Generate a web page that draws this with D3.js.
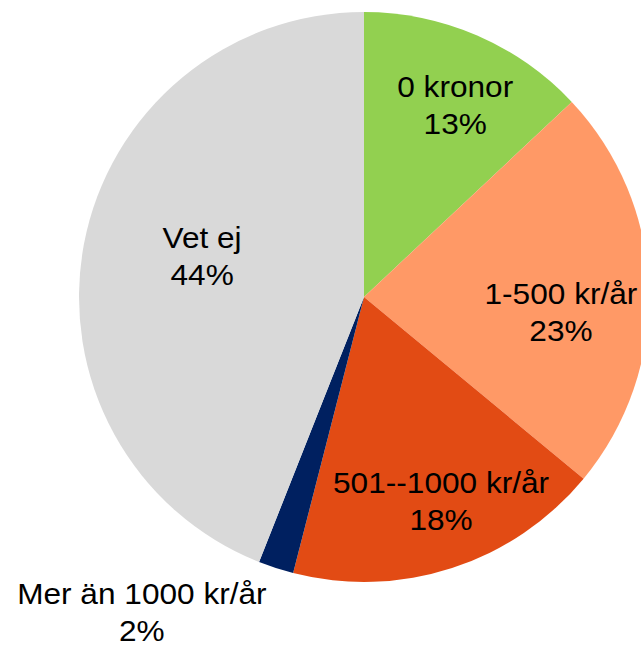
<!DOCTYPE html>
<html>
<head>
<meta charset="utf-8">
<script src="https://cdn.jsdelivr.net/npm/d3@7"></script>
<style>
  html, body { margin: 0; padding: 0; background: #fff; overflow: hidden; }
  svg { display: block; }
</style>
</head>
<body>
<svg id="chart" width="641" height="646"></svg>
<script>
// data
const categories = ['0 kronor', '1-500 kr/år', '501--1000 kr/år', 'Mer än 1000 kr/år', 'Vet ej'];
const shares = [13, 23, 18, 2, 44];
const colors = ['#92d050', '#ff9966', '#e24b14', '#002060', '#d9d9d9'];

// label placement: fraction of radius and angle shift (degrees) from slice middle
const labelRadius = [0.746, 0.693, 0.765, 1.352, 0.586];
const labelShift = [2.0, 6.15, -2.7, 17.2, 3.4];

const cx = 364, cy = 297, R = 285;
const fontSize = 29, lineGap = 37;

const svg = d3.select('#chart');
const g = svg.append('g').attr('transform', `translate(${cx},${cy})`);

const pie = d3.pie().sort(null).value(d => d.value);
const arcs = pie(categories.map((c, i) => ({ name: c, value: shares[i], i })));
const arc = d3.arc().innerRadius(0).outerRadius(R);

g.selectAll('path.slice')
  .data(arcs)
  .join('path')
  .attr('class', 'slice')
  .attr('d', arc)
  .attr('fill', d => colors[d.data.i]);

const labels = g.selectAll('text.lbl')
  .data(arcs)
  .join('text')
  .attr('class', 'lbl')
  .attr('text-anchor', 'middle')
  .attr('font-family', '"Liberation Sans", Arial, sans-serif')
  .attr('font-size', fontSize)
  .attr('fill', '#000')
  .attr('transform', d => {
    const i = d.data.i;
    const a = (d.startAngle + d.endAngle) / 2 + labelShift[i] * Math.PI / 180;
    const r = R * labelRadius[i];
    const x = r * Math.sin(a), y = -r * Math.cos(a);
    return `translate(${x},${y}) scale(1.09,1)`;
  });

labels.append('tspan')
  .attr('x', 0)
  .attr('y', -lineGap / 2 + fontSize * 0.36)
  .text(d => d.data.name);

labels.append('tspan')
  .attr('x', 0)
  .attr('y', lineGap / 2 + fontSize * 0.36)
  .text(d => d3.format('.0%')(d.data.value / d3.sum(shares)));
</script>
</body>
</html>
